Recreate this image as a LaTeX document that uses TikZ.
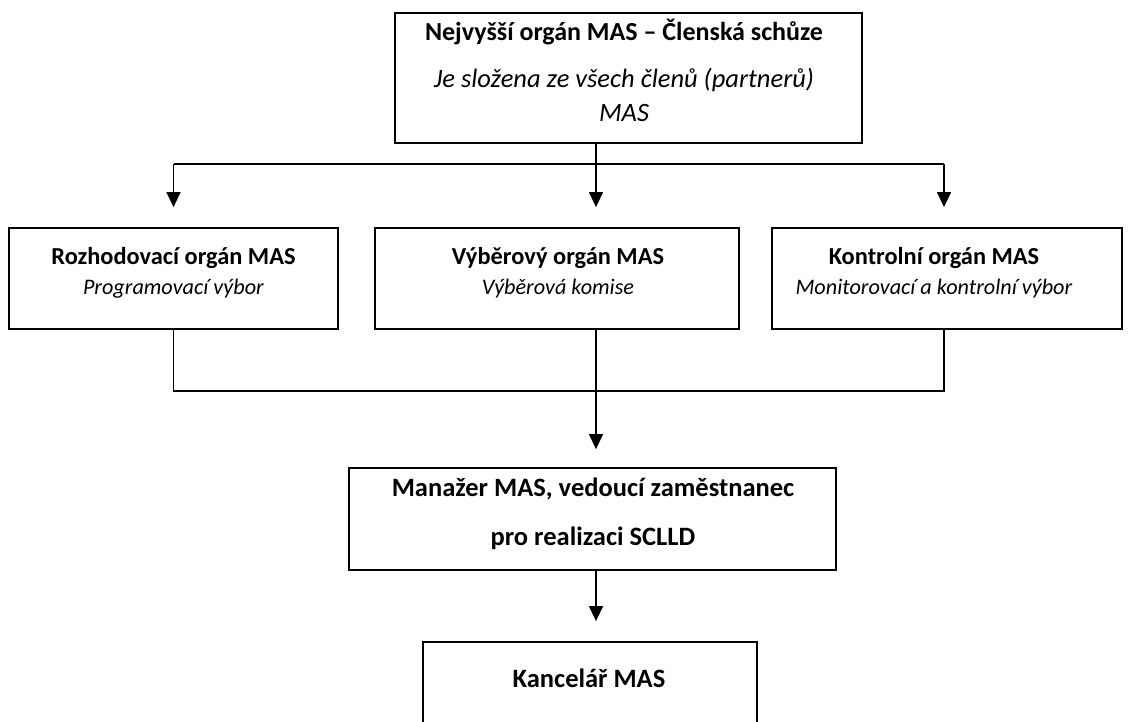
\documentclass[tikz,border=0pt]{standalone}
\usepackage{fontspec}
\setmainfont{Carlito}
\usetikzlibrary{arrows.meta}
\newcommand{\bigtxt}{\fontsize{26.5pt}{34pt}\selectfont}
\newcommand{\midtxt}{\fontsize{24.4pt}{30pt}\selectfont}
\newcommand{\smalltxt}{\fontsize{22.2pt}{30pt}\selectfont}
\tikzset{
  box/.style={draw, line width=1.8pt, inner sep=0pt},
  txt/.style={align=center, inner sep=0pt},
  arr/.style={line width=1.4pt, -{Triangle[width=14pt,length=15pt]}},
  link/.style={line width=1.4pt}
}
\begin{document}
\begin{tikzpicture}[x=1pt,y=-1pt]
    \useasboundingbox (0,0) rectangle (1128,722);
    \clip (0,0) rectangle (1128,722);
    % top level
    \node [box, minimum width=467pt, minimum height=130pt] (clen) at (628.5,78) {};
    \node [txt, font=\bigtxt] (clentxt) at (624,70.5)
     {\fontsize{26pt}{34pt}\selectfont\textbf{Nejvyšší orgán MAS – Členská schůze}\\[13pt]
      \textit{Je složena ze všech členů (partnerů)}\\\textit{MAS}};
    % three organs
    \node [box, minimum width=329pt, minimum height=101pt] (rozh) at (173.5,278.5) {};
    \node [txt, font=\midtxt] (rozhtxt) at (173.5,273)
     {\textbf{Rozhodovací orgán MAS}\\\smalltxt\textit{Programovací výbor}};
    \node [box, minimum width=364pt, minimum height=101pt] (vyber) at (557,278.5) {};
    \node [txt, font=\midtxt] (vybertxt) at (558,273)
     {\textbf{Výběrový orgán MAS}\\\smalltxt\textit{Výběrová komise}};
    \node [box, minimum width=350pt, minimum height=101pt] (kontr) at (947,278.5) {};
    \node [txt, font=\midtxt] (kontrtxt) at (934,273)
     {\textbf{Kontrolní orgán MAS}\\\smalltxt\textit{Monitorovací a kontrolní výbor}};
    % manager
    \node [box, minimum width=487pt, minimum height=102pt] (manaz) at (592.5,519) {};
    \node [txt, font=\bigtxt] (manaztxt) at (593,514)
     {\textbf{Manažer MAS, vedoucí zaměstnanec}\\[15pt]\textbf{pro realizaci SCLLD}};
    % office
    \node [box, minimum width=334pt, minimum height=158pt] (kanc) at (590,721) {};
    \node [txt, font=\bigtxt] (kanctxt) at (589,678) {\textbf{Kancelář MAS}};
    % connectors
    \coordinate (trunk) at (596,164);
    \coordinate (join) at (596,391);
    \draw [link] (clen.south -| trunk) -- (trunk);
    \draw [link] (rozh.north |- trunk) -- ([xshift=-3pt]kontr.north |- trunk);
    \draw [arr, shorten >=20pt] (rozh.north |- trunk) -- (rozh.north);
    \draw [arr, shorten >=20pt] (trunk) -- (trunk |- vyber.north);
    \draw [arr, shorten >=20pt] ([xshift=-3pt]kontr.north |- trunk) -- ([xshift=-3pt]kontr.north);
    \draw [link] (rozh.south) |- (join) -| ([xshift=-3pt]kontr.south);
    \draw [arr, shorten >=18pt] (vyber.south -| join) -- (join |- manaz.north);
    \draw [arr, shorten >=20pt] (manaz.south -| join) -- (join |- kanc.north);
\end{tikzpicture}
\end{document}
